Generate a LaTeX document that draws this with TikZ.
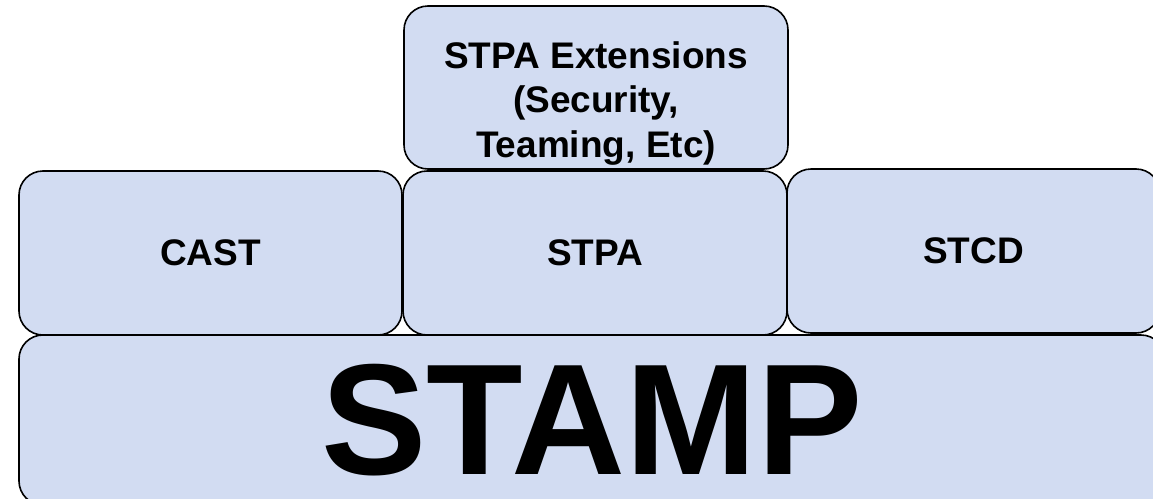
\documentclass[tikz,border=0pt]{standalone}
\usepackage{fontspec}
\setmainfont{Liberation Sans}
\usetikzlibrary{positioning}

\definecolor{layerfill}{HTML}{D2DCF2}

\tikzset{
  layer/.style={draw=black, fill=layerfill, line width=1.6pt, rounded corners=24pt,
    inner sep=0pt, outer sep=0pt, align=center,
    font=\bfseries\fontsize{37}{44.5}\selectfont},
}

\begin{document}
\begin{tikzpicture}[x=1pt,y=-1pt]
\useasboundingbox (0,0) rectangle (1153,498);
\clip (0,0) rectangle (1153,498);

    % middle row of methods
    \node[layer, minimum width=383pt, minimum height=164pt] (cast) at (210.5,253) {CAST};
    \node[layer, minimum width=384pt, minimum height=164pt, right=1pt of cast] (stpa) {STPA};
    \node[layer, minimum width=373pt, minimum height=164pt, right=0pt of stpa, yshift=2pt] (stcd) {STCD};

    % extensions on top of stpa
    \node[layer, minimum width=384pt, minimum height=163pt, above=2pt of stpa, xshift=1pt] (ext)
        {\rule{0pt}{58pt}STPA Extensions\\(Security,\\Teaming, Etc)};

    % foundation
    \node[layer, minimum width=1146pt, minimum height=170pt, anchor=north west,
        font=\bfseries\fontsize{158}{158}\selectfont] (stamp) at (cast.south west) {STAMP};
\end{tikzpicture}
\end{document}
